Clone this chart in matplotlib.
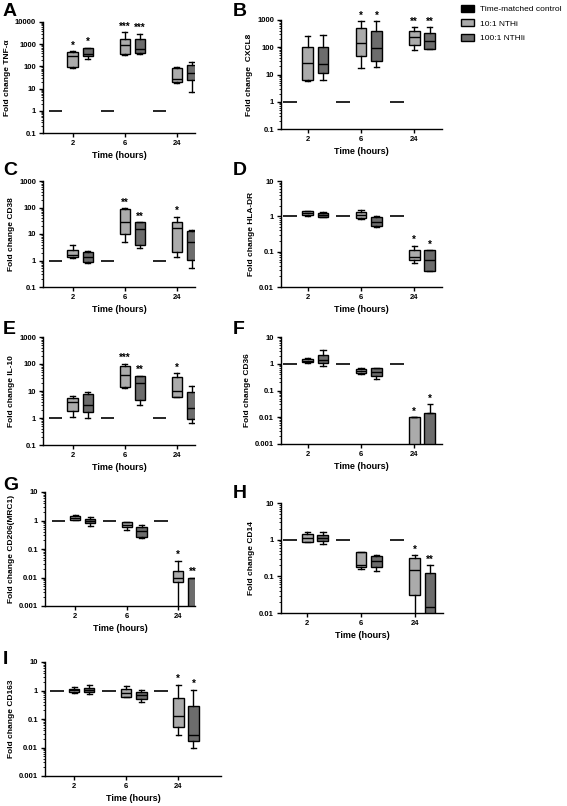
import matplotlib.pyplot as plt
from matplotlib.patches import Patch
from matplotlib.ticker import FixedLocator, LogLocator, NullFormatter

plt.rcParams['font.family'] = ['Liberation Sans', 'DejaVu Sans']

times = ['2', '6', '24']
series_names = ['Time-matched control', '10:1 NTHi', '100:1 NTHIi']
series_colors = ['black', '#ababab', '#6c6c6c']

# five-number summaries per time point: [min, q1, median, q3, max]
tnf_light = [[88, 90, 280, 450, 470], [330, 370, 950, 1800, 3500], [17, 20, 28, 85, 95]]
tnf_dark = [[220, 300, 380, 700, 700], [380, 400, 600, 1800, 3000], [7, 25, 50, 110, 150]]
tnf_stars = [['*', '***', ''], ['*', '***', '']]

cxcl8_light = [[6, 6.4, 27, 106, 250], [18, 46, 142, 520, 890], [79, 120, 230, 390, 540]]
cxcl8_dark = [[6.2, 11, 25, 103, 273], [19, 30, 92, 400, 900], [89, 89, 175, 345, 540]]
cxcl8_stars = [['', '*', '**'], ['', '*', '**']]

cd38_light = [[1.2, 1.3, 1.6, 2.6, 4.0], [5, 10, 28, 90, 95], [1.4, 2.1, 17, 28, 45]]
cd38_dark = [[0.8, 0.85, 1.3, 2.1, 2.3], [3, 4, 15, 28, 28], [0.5, 1.05, 5, 12.5, 14]]
cd38_stars = [['', '**', '*'], ['', '**', '']]

hladr_light = [[1.05, 1.07, 1.25, 1.4, 1.45], [0.85, 0.9, 1.1, 1.35, 1.5], [0.048, 0.057, 0.07, 0.114, 0.148]]
hladr_dark = [[0.96, 0.98, 1.1, 1.24, 1.3], [0.5, 0.54, 0.69, 0.98, 1.0], [0.028, 0.028, 0.059, 0.109, 0.109]]
hladr_stars = [['', '', '*'], ['', '', '*']]

il10_light = [[1.05, 1.8, 3.8, 5.5, 6.5], [13, 14, 40, 85, 100], [6, 6, 10, 33, 45]]
il10_dark = [[1.0, 1.7, 3, 8, 9], [3, 4.5, 19, 35, 37], [0.65, 0.95, 2.4, 9, 15]]
il10_stars = [['', '***', '*'], ['', '**', '']]

# CD36: boxes at 2 h and 6 h, mean bars (+ error) at 24 h
cd36_light = [[1.06, 1.12, 1.3, 1.5, 1.7], [0.41, 0.45, 0.55, 0.65, 0.69]]
cd36_dark = [[0.84, 1.06, 1.4, 2.2, 3.2], [0.27, 0.35, 0.49, 0.67, 0.69]]
cd36_bar_24h = [0.01, 0.015]
cd36_err_24h = [0.0, 0.015]
cd36_stars_24h = ['*', '*']

cd206_light = [[1.03, 1.08, 1.22, 1.43, 1.58], [0.45, 0.58, 0.7, 0.88, 0.9], [0.0002, 0.0069, 0.01, 0.0163, 0.039]]
cd206_dark = [[0.66, 0.84, 0.98, 1.17, 1.36], [0.25, 0.27, 0.44, 0.61, 0.72], [0.0002, 0.0002, 0.0002, 0.01, 0.01]]
cd206_stars = [['', '', '*'], ['', '', '**']]

cd14_light = [[0.86, 0.88, 1.09, 1.4, 1.63], [0.16, 0.18, 0.2, 0.47, 0.47], [0.002, 0.031, 0.146, 0.31, 0.38]]
cd14_dark = [[0.76, 0.9, 1.11, 1.37, 1.63], [0.137, 0.18, 0.26, 0.35, 0.39], [0.002, 0.002, 0.015, 0.124, 0.2]]
cd14_stars = [['', '', '*'], ['', '', '**']]

cd163_light = [[0.79, 0.9, 1.03, 1.17, 1.3], [0.57, 0.59, 0.83, 1.17, 1.49], [0.028, 0.051, 0.129, 0.54, 1.57]]
cd163_dark = [[0.73, 0.88, 1.08, 1.27, 1.57], [0.40, 0.50, 0.69, 0.92, 1.08], [0.01, 0.0166, 0.028, 0.29, 1.05]]
cd163_stars = [['', '', '*'], ['', '', '*']]

control_values = [1, 1, 1]

W, H = 567, 806
OFFSETS = [-0.33, 0.0, 0.29]


def make_axes(fig, x0, x1, y0, y1):
    # pixel box (top-left origin) -> figure fraction
    return fig.add_axes([x0 / W, 1 - y1 / H, (x1 - x0) / W, (y1 - y0) / H])


def to_stats(rows):
    return [dict(whislo=r[0], q1=r[1], med=r[2], q3=r[3], whishi=r[4], fliers=[]) for r in rows]


def draw_control(ax):
    pos = [i + OFFSETS[0] for i in range(len(control_values))]
    ax.hlines(control_values, [p - 0.13 for p in pos], [p + 0.13 for p in pos], color='black', linewidth=1.2)


def draw_boxes(ax, rows, idx, color):
    pos = [i + OFFSETS[idx] for i in range(len(rows))]
    ax.bxp(to_stats(rows), positions=pos, widths=0.2, capwidths=0.1, patch_artist=True,
           showfliers=False, manage_ticks=False,
           boxprops=dict(facecolor=color, edgecolor='black', linewidth=1.0),
           medianprops=dict(color='black', linewidth=1.0),
           whiskerprops=dict(color='black', linewidth=1.0),
           capprops=dict(color='black', linewidth=1.0))


def add_stars(ax, xs, tops, stars):
    for x, top, s in zip(xs, tops, stars):
        if s:
            ax.annotate(s, (x, top), xytext=(0, 0.5), textcoords='offset points',
                        ha='center', va='bottom', fontsize=7, fontweight='bold')


def style_axes(ax, ylim, ylabel, xlim):
    ax.set_yscale('log')
    ax.set_ylim(*ylim)
    ax.set_xlim(*xlim)
    majors = []
    v = ylim[0]
    while v <= ylim[1] * 1.001:
        majors.append(v)
        v *= 10
    ax.yaxis.set_major_locator(FixedLocator(majors))
    ax.set_yticklabels(['{:g}'.format(m) for m in majors])
    ax.yaxis.set_minor_locator(LogLocator(base=10, subs=range(2, 10), numticks=20))
    ax.yaxis.set_minor_formatter(NullFormatter())
    ax.set_xticks(range(len(times)))
    ax.set_xticklabels(times)
    for side in ['top', 'right']:
        ax.spines[side].set_visible(False)
    for side in ['left', 'bottom']:
        ax.spines[side].set_linewidth(1.0)
    ax.tick_params(axis='both', which='major', length=3, width=1.0, labelsize=5.5, pad=2)
    ax.tick_params(axis='y', which='minor', length=1.6, width=0.6)
    for lab in ax.get_xticklabels() + ax.get_yticklabels():
        lab.set_fontweight('bold')
    ax.set_xlabel('Time (hours)', fontsize=6.5, fontweight='bold', labelpad=3)
    ax.set_ylabel(ylabel, fontsize=6, fontweight='bold', labelpad=3)


def box_panel(ax, light, dark, stars, ylim, ylabel, xlim):
    draw_control(ax)
    draw_boxes(ax, light, 1, series_colors[1])
    draw_boxes(ax, dark, 2, series_colors[2])
    add_stars(ax, [i + OFFSETS[1] for i in range(3)], [r[4] for r in light], stars[0])
    add_stars(ax, [i + OFFSETS[2] for i in range(3)], [r[4] for r in dark], stars[1])
    style_axes(ax, ylim, ylabel, xlim)


def panel_letter(fig, letter, x, y):
    fig.text(x / W, 1 - y / H, letter, fontsize=14, fontweight='bold', ha='left', va='top')


fig = plt.figure(figsize=(W / 100, H / 100), dpi=100)

left_x = (-0.57, 2.35)
right_x = (-0.5, 2.52)

axA = make_axes(fig, 43, 195, 22, 133)
box_panel(axA, tnf_light, tnf_dark, tnf_stars, (0.1, 10000), 'Fold change TNF-\u03b1', left_x)
panel_letter(fig, 'A', 3, 3)

axB = make_axes(fig, 281, 442, 20, 129)
box_panel(axB, cxcl8_light, cxcl8_dark, cxcl8_stars, (0.1, 1000), 'Fold change  CXCL8', right_x)
panel_letter(fig, 'B', 233, 3)

axC = make_axes(fig, 43, 195, 181, 287)
box_panel(axC, cd38_light, cd38_dark, cd38_stars, (0.1, 1000), 'Fold change CD38', left_x)
panel_letter(fig, 'C', 3, 162)

axD = make_axes(fig, 281, 442, 181, 287)
box_panel(axD, hladr_light, hladr_dark, hladr_stars, (0.01, 10), 'Fold change HLA-DR', right_x)
panel_letter(fig, 'D', 233, 162)

axE = make_axes(fig, 43, 195, 337, 445)
box_panel(axE, il10_light, il10_dark, il10_stars, (0.1, 1000), 'Fold change IL-10', left_x)
panel_letter(fig, 'E', 3, 321)

# F: boxes for 2 h / 6 h, bars for 24 h
axF = make_axes(fig, 281, 442, 337, 444)
draw_control(axF)
draw_boxes(axF, cd36_light, 1, series_colors[1])
draw_boxes(axF, cd36_dark, 2, series_colors[2])
bar_x = [2 + OFFSETS[1], 2 + OFFSETS[2]]
axF.bar(bar_x, cd36_bar_24h, width=0.2, bottom=1e-5, color=series_colors[1:], edgecolor='black',
        linewidth=1.0, yerr=[[0, 0], cd36_err_24h], error_kw=dict(capsize=2, elinewidth=1.0, capthick=1.0))
add_stars(axF, bar_x, [b + e for b, e in zip(cd36_bar_24h, cd36_err_24h)], cd36_stars_24h)
style_axes(axF, (0.001, 10), 'Fold change CD36', right_x)
panel_letter(fig, 'F', 233, 321)

axG = make_axes(fig, 45, 195, 492, 606)
box_panel(axG, cd206_light, cd206_dark, cd206_stars, (0.001, 10), 'Fold change CD206(MRC1)', (-0.59, 2.33))
panel_letter(fig, 'G', 3, 477)

axH = make_axes(fig, 281, 443, 503, 613)
box_panel(axH, cd14_light, cd14_dark, cd14_stars, (0.01, 10), 'Fold change CD14', (-0.49, 2.53))
panel_letter(fig, 'H', 233, 485)

axI = make_axes(fig, 45, 221, 662, 776)
box_panel(axI, cd163_light, cd163_dark, cd163_stars, (0.001, 10), 'Fold change CD163', (-0.56, 2.82))
panel_letter(fig, 'I', 3, 651)

handles = [Patch(facecolor=c, edgecolor='black', linewidth=1.0) for c in series_colors]
fig.legend(handles, series_names, loc='upper left', bbox_to_anchor=(459 / W, 1 - 3 / H), frameon=False,
           fontsize=6, handlelength=1.6, handleheight=0.9, handletextpad=0.7, labelspacing=0.75,
           borderaxespad=0, borderpad=0.2)

fig.savefig('out.png', dpi=100)
